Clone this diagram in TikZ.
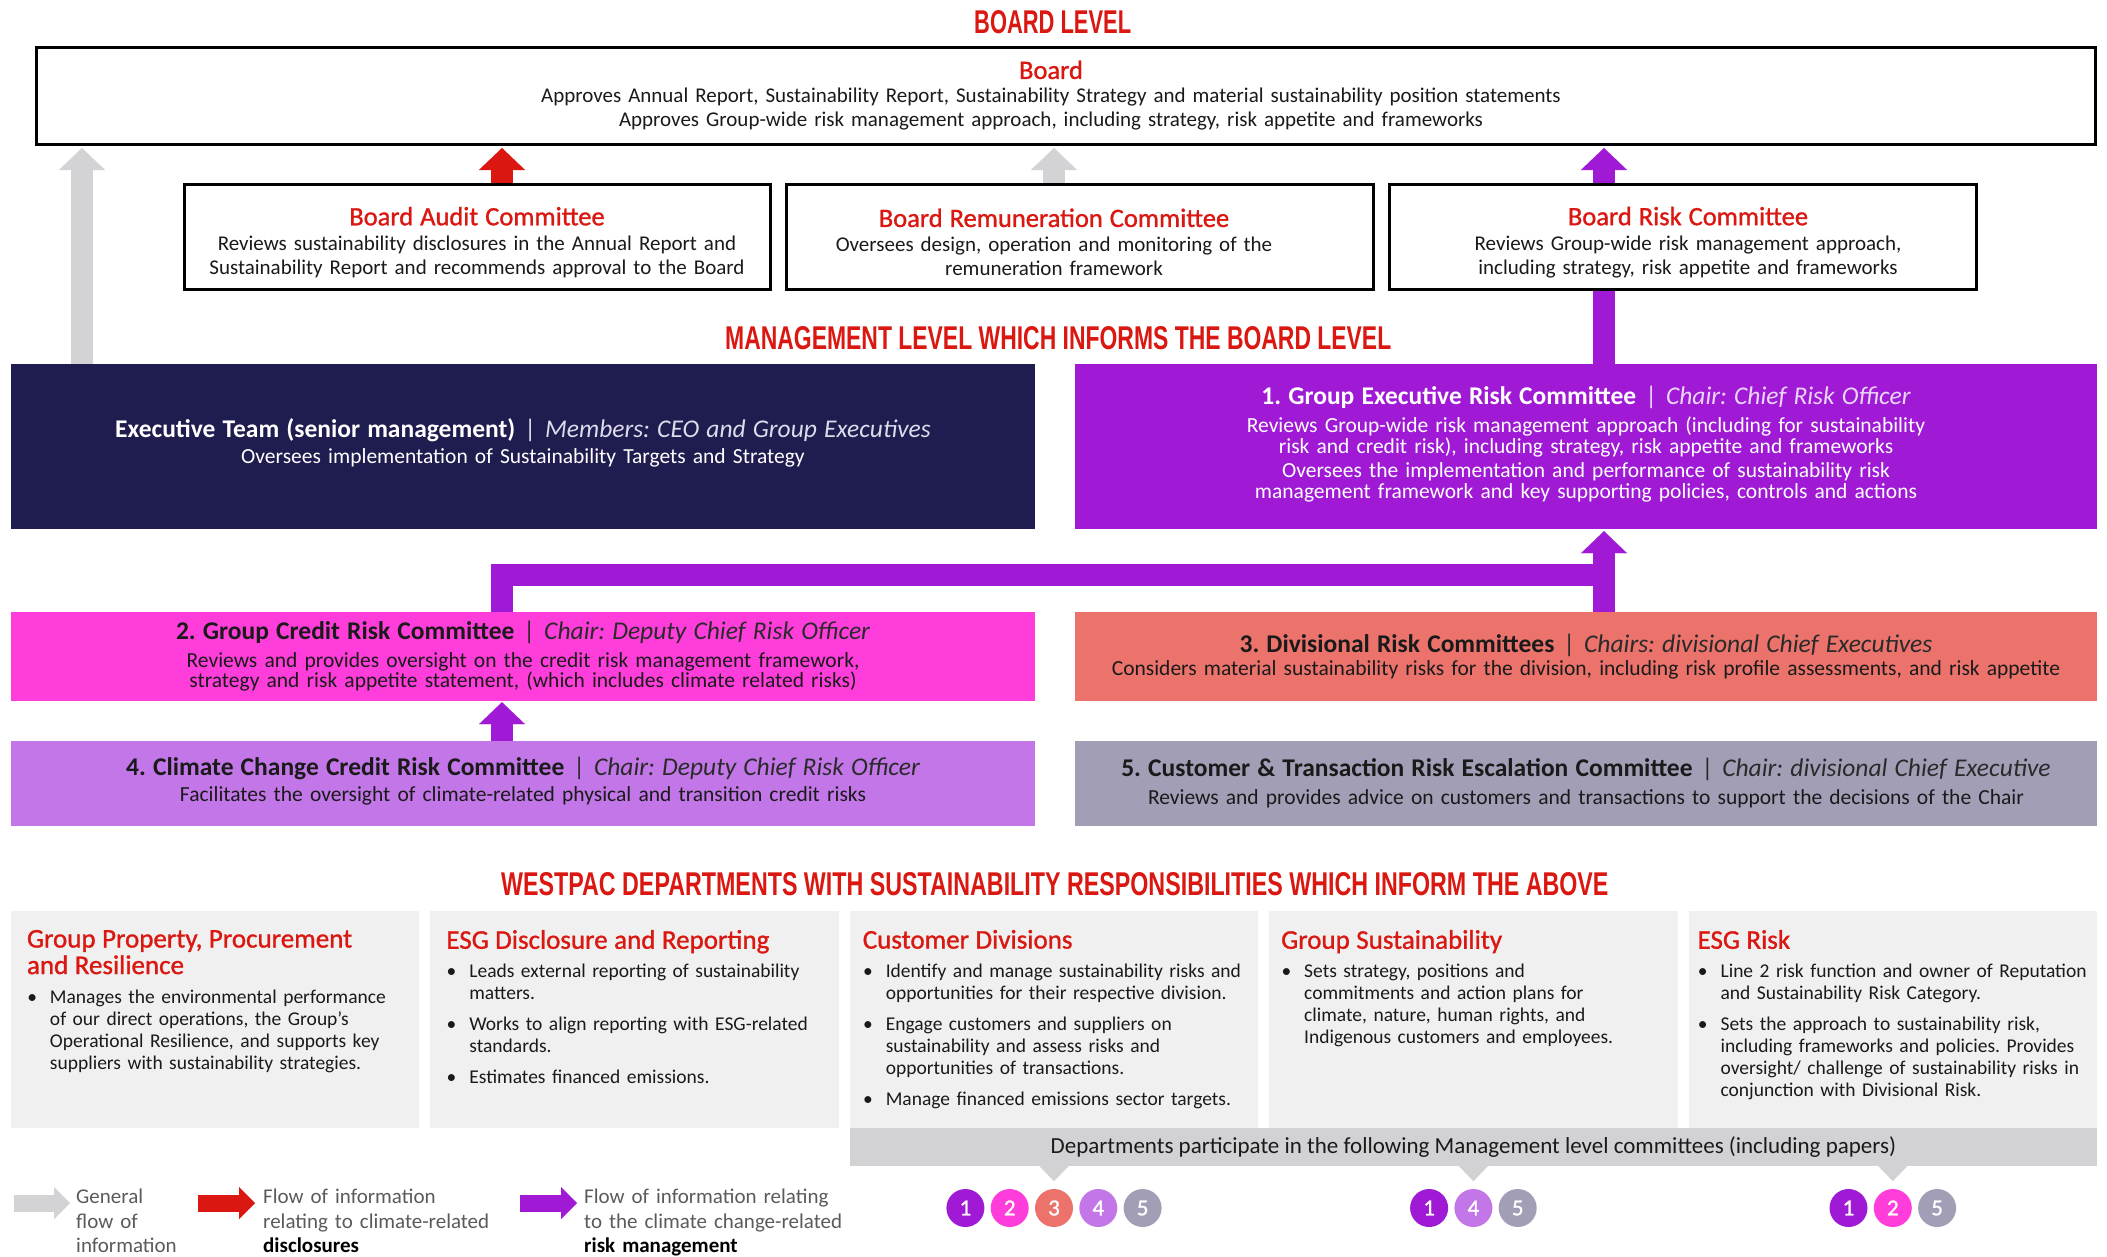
\documentclass[tikz,border=0pt]{standalone}
\usepackage{fontspec}
\usepackage{graphicx}
\setmainfont{Carlito}
\newfontfamily\medfont{Carlito}[FakeBold=1.1]
\newfontfamily\headfont{Liberation Sans}
\usetikzlibrary{arrows.meta}
\definecolor{wred}{HTML}{DA1710}
\definecolor{navy}{HTML}{1F1C4F}
\definecolor{wpurple}{HTML}{A01AD6}
\definecolor{wpink}{HTML}{FF3DDB}
\definecolor{wsalmon}{HTML}{EB736C}
\definecolor{wlilac}{HTML}{C276E8}
\definecolor{wgrayp}{HTML}{A19EB6}
\definecolor{deptgray}{HTML}{F0F0F0}
\definecolor{bandgray}{HTML}{D2D2D5}
\definecolor{agray}{HTML}{D3D3D5}
\definecolor{txt}{HTML}{1A1A1A}
\definecolor{legtxt}{HTML}{5A5A5A}
\definecolor{subwhite}{HTML}{DCDCEB}
\definecolor{sublav}{HTML}{EBD6F7}
\definecolor{subdark}{HTML}{2A2A2A}
\frenchspacing
\setlength{\lineskiplimit}{-30pt}
\newcommand\fs[2]{\fontsize{#1}{#2}\selectfont}
\newcommand\ctitle[3]{{\fs{25.5}{25.5}\bfseries #1}\hspace{9pt}{\fs{25.5}{25.5}\color{#3}|}\hspace{9pt}{\fs{25.5}{25.5}\itshape\color{#3}#2}}
\newcommand\btitle[1]{{\fs{26.5}{26.5}\medfont\color{wred}#1}}
\newcommand\dtitle[1]{{\fs{27}{26.5}\medfont\color{wred}#1\par}\vskip 7pt}
\newcommand\bitem[1]{{\leftskip=23pt\noindent\llap{\textbullet\hspace{13pt}}#1\par}}
\newcommand\headtxt[2]{\resizebox{#1}{23pt}{\headfont\bfseries #2}}
\begin{document}
\begin{tikzpicture}[x=1pt,y=-1pt,
  boardbox/.style={draw=black, line width=3pt, fill=white, inner sep=0pt},
  boardtext/.style={inner sep=0pt, align=center, font=\fs{21}{24}, text=txt},
  mgmtbox/.style={inner sep=0pt, align=center, text width=1022pt, minimum height=89pt, font=\fs{21.5}{20.5}, text=txt},
  deptbox/.style={fill=deptgray, inner sep=0pt, minimum width=408.4pt, minimum height=217pt},
  depttext/.style={anchor=north west, inner sep=0pt, align=left, text width=400pt, font=\fs{19.5}{22}, text=txt},
  heading/.style={anchor=base west, inner sep=0pt, text=wred},
  fatarrow/.style={line width=22pt, -{Triangle[width=46pt,length=22pt,line width=0.01pt]}},
  fatline/.style={line width=22pt},
  legarrow/.style={line width=17pt, -{Triangle[width=32pt,length=16pt,line width=0.01pt]}},
  legtext/.style={anchor=north west, inner sep=0pt, align=left, text width=270pt, font=\fs{21}{24.5}, text=legtxt},
  num/.style={circle, inner sep=0pt, minimum size=38pt, text=white, font=\fs{23}{23}\medfont},
  ptr/.style={fill=bandgray}
]
\useasboundingbox (0,0) rectangle (2107,1256);

% headings
\node[heading] (h1) at (974,33) {\headtxt{157pt}{BOARD LEVEL}};
\node[heading] (h2) at (725,349) {\headtxt{666pt}{MANAGEMENT LEVEL WHICH INFORMS THE BOARD LEVEL}};
\node[heading] (h3) at (501,895) {\headtxt{1107pt}{WESTPAC DEPARTMENTS WITH SUSTAINABILITY RESPONSIBILITIES WHICH INFORM THE ABOVE}};

% board level boxes
\node[boardbox, minimum width=2059pt, minimum height=97pt] (board) at (1065.5,95.5) {};
\node[boardbox, minimum width=586pt, minimum height=105pt] (audit) at (477,236.5) {};
\node[boardbox, minimum width=587pt, minimum height=105pt] (remun) at (1079.5,236.5) {};
\node[boardbox, minimum width=587pt, minimum height=105pt] (riskc) at (1682.5,236.5) {};

\node[boardtext, text width=2000pt] (boardt) at (board.center -| 1051,0)
  {\btitle{Board}\\
   Approves Annual Report, Sustainability Report, Sustainability Strategy and material sustainability position statements\\
   Approves Group-wide risk management approach, including strategy, risk appetite and frameworks};
\node[boardtext, text width=580pt] (auditt) at (audit.center)
  {\rule{0pt}{30pt}\btitle{Board Audit Committee}\\[1pt]
   Reviews sustainability disclosures in the Annual Report and\\
   Sustainability Report and recommends approval to the Board};
\node[boardtext, text width=580pt] (remunt) at (remun.center -| 1054,0)
  {\rule{0pt}{30pt}\btitle{Board Remuneration Committee}\\[1pt]
   Oversees design, operation and monitoring of the\\
   remuneration framework};
\node[boardtext, text width=580pt] (riskct) at (riskc.center -| 1688,0)
  {\rule{0pt}{30pt}\btitle{Board Risk Committee}\\[1pt]
   Reviews Group-wide risk management approach,\\
   including strategy, risk appetite and frameworks};

% management level
\node[mgmtbox, fill=navy, text=white, text width=1024pt, minimum height=165pt, font=\fs{21.5}{21.5}] (exec) at (523,446.5)
  {\ctitle{Executive Team (senior management)}{Members: CEO and Group Executives}{subwhite}\\[4.5pt]
   Oversees implementation of Sustainability Targets and Strategy\rule[-11pt]{0pt}{0pt}};
\node[mgmtbox, fill=wpurple, text=white, minimum height=165pt, font=\fs{21.5}{21}] (execrisk) at (1586,446.5)
  {\ctitle{1. Group Executive Risk Committee}{Chair: Chief Risk Officer}{sublav}\\[7pt]
   Reviews Group-wide risk management approach (including for sustainability\\
   risk and credit risk), including strategy, risk appetite and frameworks\\[3.5pt]
   Oversees the implementation and performance of sustainability risk\\
   management framework and key supporting policies, controls and actions\rule[-8pt]{0pt}{0pt}};
\node[mgmtbox, fill=wpink, text width=1024pt] (gcredit) at (523,656.5)
  {\ctitle{2. Group Credit Risk Committee}{Chair: Deputy Chief Risk Officer}{subdark}\\[7pt]
   Reviews and provides oversight on the credit risk management framework,\\
   strategy and risk appetite statement, (which includes climate related risks)};
\node[mgmtbox, fill=wsalmon] (divrisk) at (1586,656.5)
  {\ctitle{3. Divisional Risk Committees}{Chairs: divisional Chief Executives}{subdark}\\[2.5pt]
   Considers material sustainability risks for the division, including risk profile assessments, and risk appetite};
\node[mgmtbox, fill=wlilac, text width=1024pt, minimum height=85pt] (climate) at (523,783.5)
  {\ctitle{4. Climate Change Credit Risk Committee}{Chair: Deputy Chief Risk Officer}{subdark}\\[5.5pt]
   Facilitates the oversight of climate-related physical and transition credit risks\rule[-9pt]{0pt}{0pt}};
\node[mgmtbox, fill=wgrayp, minimum height=85pt] (custrisk) at (1586,783.5)
  {\ctitle{5. Customer \& Transaction Risk Escalation Committee}{Chair: divisional Chief Executive}{subdark}\\[7.5pt]
   Reviews and provides advice on customers and transactions to support the decisions of the Chair};

% arrow x positions
\coordinate (xg) at (82,0);
\coordinate (xr) at (502,0);
\coordinate (xm) at (1054,0);
\coordinate (xp) at (1604,0);
\coordinate (barR) at (1604,575);

% arrows
\draw[fatarrow, agray] (exec.north -| xg) -- ([yshift=-2.5pt]board.south -| xg);
\draw[fatarrow, wred] (audit.north -| xr) -- ([yshift=-2.5pt]board.south -| xr);
\draw[fatarrow, agray] (remun.north -| xm) -- ([yshift=-2.5pt]board.south -| xm);
\draw[fatarrow, wpurple] (riskc.north -| xp) -- ([yshift=-2.5pt]board.south -| xp);
\draw[fatline, wpurple] (execrisk.north -| xp) -- (riskc.south -| xp);
\draw[fatline, wpurple] (gcredit.north -| xr) |- (barR);
\draw[fatarrow, wpurple] (divrisk.north -| xp) -- ([yshift=-2pt]execrisk.south -| xp);
\draw[fatarrow, wpurple] (climate.north -| xr) -- ([yshift=-1pt]gcredit.south -| xr);

% departments
\node[deptbox] (dp1) at (215.2,1019.5) {};
\node[deptbox] (dp2) at (634.6,1019.5) {};
\node[deptbox] (dp3) at (1054,1019.5) {};
\node[deptbox] (dp4) at (1473.4,1019.5) {};
\node[deptbox] (dp5) at (1892.8,1019.5) {};

\node[depttext] (dt1) at ([xshift=16pt,yshift=-19pt]dp1.north west)
  {\dtitle{Group Property, Procurement\\and Resilience}
   \bitem{Manages the environmental performance\\of our direct operations, the Group's\\Operational Resilience, and supports key\\suppliers with sustainability strategies.}};
\node[depttext] (dt2) at ([xshift=16pt,yshift=-19pt]dp2.north west)
  {\dtitle{ESG Disclosure and Reporting}
   \bitem{Leads external reporting of sustainability\\matters.}\vskip 9pt
   \bitem{Works to align reporting with ESG-related\\standards.}\vskip 9pt
   \bitem{Estimates financed emissions.}};
\node[depttext] (dt3) at ([xshift=13pt,yshift=-19pt]dp3.north west)
  {\dtitle{Customer Divisions}
   \bitem{Identify and manage sustainability risks and\\opportunities for their respective division.}\vskip 9pt
   \bitem{Engage customers and suppliers on\\sustainability and assess risks and\\opportunities of transactions.}\vskip 9pt
   \bitem{Manage financed emissions sector targets.}};
\node[depttext] (dt4) at ([xshift=12pt,yshift=-19pt]dp4.north west)
  {\dtitle{Group Sustainability}
   \bitem{Sets strategy, positions and\\commitments and action plans for\\climate, nature, human rights, and\\Indigenous customers and employees.}};
\node[depttext] (dt5) at ([xshift=9pt,yshift=-19pt]dp5.north west)
  {\dtitle{ESG Risk}
   \bitem{Line 2 risk function and owner of Reputation\\and Sustainability Risk Category.}\vskip 9pt
   \bitem{Sets the approach to sustainability risk,\\including frameworks and policies. Provides\\oversight/ challenge of sustainability risks in\\conjunction with Divisional Risk.}};

% band
\node[fill=bandgray, inner sep=0pt, minimum width=1247.2pt, minimum height=38pt, font=\fs{23}{23}, text=txt] (band) at (1473.4,1147)
  {Departments participate in the following Management level committees (including papers)};
\foreach \d in {dp3,dp4,dp5}{
  \fill[ptr] ([xshift=-15pt,yshift=0.5pt]band.south -| \d.center) -- ([yshift=-15pt]band.south -| \d.center) -- ([xshift=15pt,yshift=0.5pt]band.south -| \d.center) -- cycle;
}

% circles
\node[num, fill=wpurple] (a1) at (965.4,1208) {1};
\node[num, fill=wpink]   (a2) at (1009.7,1208) {2};
\node[num, fill=wsalmon] (a3) at (1054,1208) {3};
\node[num, fill=wlilac]  (a4) at (1098.3,1208) {4};
\node[num, fill=wgrayp]  (a5) at (1142.6,1208) {5};
\node[num, fill=wpurple] (b1) at (1429.1,1208) {1};
\node[num, fill=wlilac]  (b4) at (1473.4,1208) {4};
\node[num, fill=wgrayp]  (b5) at (1517.7,1208) {5};
\node[num, fill=wpurple] (c1) at (1848.5,1208) {1};
\node[num, fill=wpink]   (c2) at (1892.8,1208) {2};
\node[num, fill=wgrayp]  (c5) at (1937.1,1208) {5};

% legend
\coordinate (lg1s) at (14,1203);  \coordinate (lg1e) at (70,1203);
\coordinate (lg2s) at (198,1203); \coordinate (lg2e) at (255,1203);
\coordinate (lg3s) at (520,1203); \coordinate (lg3e) at (577,1203);
\draw[legarrow, agray] (lg1s) -- (lg1e);
\draw[legarrow, wred] (lg2s) -- (lg2e);
\draw[legarrow, wpurple] (lg3s) -- (lg3e);
\node[legtext] (lt1) at (76,1189) {General\\flow of\\information};
\node[legtext] (lt2) at (263,1189) {Flow of information\\relating to climate-related\\{\color{black}\bfseries disclosures}};
\node[legtext] (lt3) at (584,1189) {Flow of information relating\\to the climate change-related\\{\color{black}\bfseries risk management}};
\end{tikzpicture}
\end{document}
